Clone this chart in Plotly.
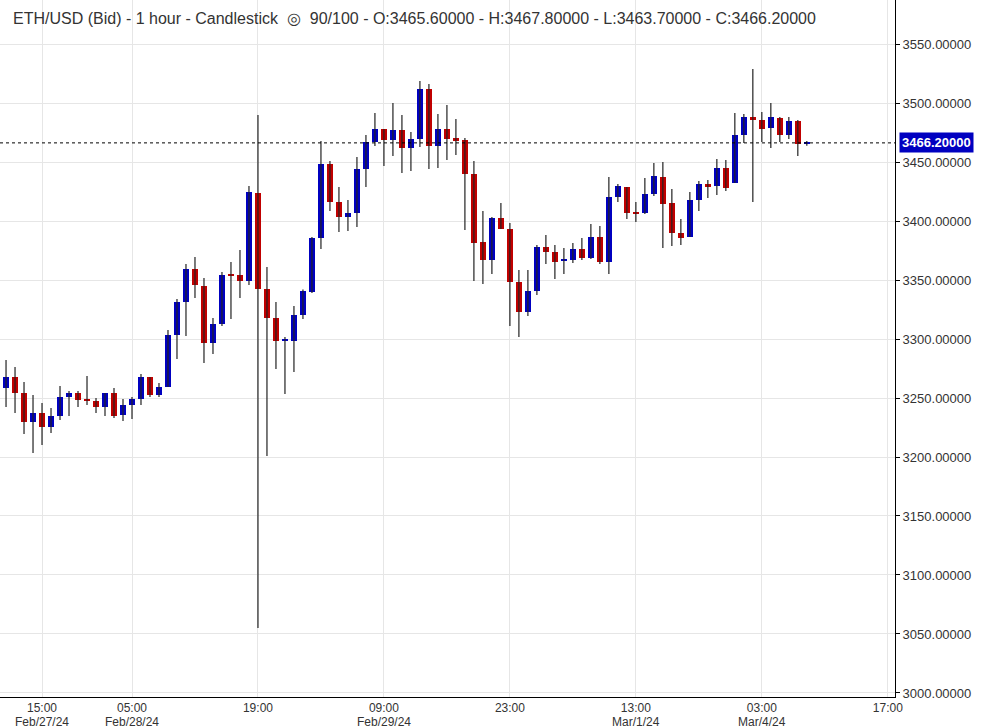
import plotly.graph_objects as go

# hourly ETH/USD candles, index 0 = Feb/27/24 11:00
opens = [3258.5, 3267.8, 3254.2, 3229.7, 3237.3, 3225.4, 3234.7, 3250.8, 3254.2, 3248.5,
         3247.5, 3242.4, 3254.2, 3235.6, 3244.1, 3249.2, 3267.8, 3252.5, 3259.3, 3303.4,
         3331.4, 3359.3, 3344.9, 3296.6, 3312.7, 3354.4, 3354.2, 3349.1, 3423.7, 3342.4,
         3317.8, 3299.0, 3298.3, 3320.3, 3339.8, 3385.6, 3448.3, 3416.1, 3403.4, 3406.8,
         3444.1, 3466.9, 3478.0, 3468.6, 3477.1, 3461.9, 3469.5, 3511.9, 3463.6, 3478.0,
         3470.3, 3468.6, 3439.8, 3382.2, 3367.0, 3402.5, 3393.2, 3348.3, 3322.9, 3340.7,
         3378.0, 3373.7, 3366.8, 3367.0, 3376.3, 3368.7, 3386.4, 3365.3, 3420.3, 3428.8,
         3407.0, 3406.8, 3422.9, 3437.3, 3415.3, 3389.8, 3386.4, 3417.8, 3431.4, 3429.7,
         3444.9, 3432.2, 3472.9, 3488.1, 3485.6, 3478.8, 3487.3, 3472.9, 3484.7, 3465.6]
highs = [3282.2, 3276.3, 3263.6, 3252.5, 3245.8, 3241.5, 3260.2, 3255.9, 3255.9, 3268.6,
         3250.0, 3254.2, 3258.5, 3249.2, 3250.8, 3270.3, 3267.8, 3262.7, 3307.6, 3333.9,
         3363.6, 3369.5, 3351.7, 3317.8, 3356.8, 3365.3, 3375.4, 3429.7, 3489.8, 3361.0,
         3331.4, 3301.7, 3328.0, 3342.0, 3386.4, 3467.8, 3450.9, 3428.8, 3417.8, 3454.2,
         3472.9, 3491.5, 3478.0, 3500.0, 3489.8, 3475.4, 3518.7, 3516.1, 3490.7, 3498.3,
         3486.4, 3470.3, 3450.9, 3408.5, 3403.4, 3415.3, 3398.3, 3358.5, 3358.5, 3379.7,
         3388.1, 3379.7, 3377.1, 3381.4, 3385.6, 3397.5, 3395.8, 3437.3, 3431.4, 3428.8,
         3416.1, 3436.4, 3449.2, 3450.0, 3427.1, 3401.7, 3424.6, 3433.9, 3434.8, 3452.5,
         3451.7, 3491.5, 3490.7, 3528.8, 3492.4, 3500.0, 3488.1, 3488.1, 3485.6, 3467.8]
lows = [3242.4, 3237.3, 3219.5, 3203.4, 3210.2, 3220.3, 3231.4, 3234.7, 3242.4, 3244.1,
        3237.3, 3234.7, 3233.0, 3230.5, 3232.2, 3244.1, 3250.8, 3250.8, 3259.3, 3283.0,
        3302.5, 3334.8, 3279.7, 3287.3, 3311.0, 3317.0, 3334.8, 3345.8, 3055.1, 3200.8,
        3274.6, 3253.4, 3272.0, 3317.0, 3339.0, 3376.3, 3408.5, 3390.7, 3391.5, 3394.9,
        3428.8, 3463.6, 3446.6, 3455.1, 3440.7, 3442.4, 3462.7, 3444.1, 3444.9, 3451.7,
        3455.9, 3392.4, 3349.1, 3346.6, 3355.1, 3393.2, 3311.0, 3301.7, 3319.5, 3337.3,
        3363.6, 3350.8, 3355.1, 3364.4, 3367.0, 3367.8, 3363.6, 3355.1, 3416.1, 3401.7,
        3399.2, 3405.9, 3421.2, 3377.1, 3378.8, 3379.7, 3386.4, 3408.5, 3419.5, 3422.0,
        3425.4, 3432.2, 3466.1, 3416.1, 3466.9, 3461.9, 3466.9, 3469.5, 3455.1, 3463.7]
closes = [3267.8, 3254.2, 3229.7, 3237.3, 3225.4, 3234.7, 3250.8, 3254.2, 3248.3, 3248.0,
          3242.4, 3254.2, 3234.7, 3244.1, 3249.2, 3267.8, 3252.5, 3259.3, 3303.4, 3331.4,
          3359.3, 3345.8, 3296.6, 3312.7, 3354.2, 3354.0, 3349.1, 3424.6, 3342.4, 3317.8,
          3298.3, 3299.5, 3320.3, 3340.7, 3385.6, 3448.3, 3416.1, 3403.4, 3406.8, 3444.1,
          3466.9, 3478.0, 3468.6, 3477.1, 3461.9, 3469.5, 3511.9, 3463.6, 3478.0, 3469.5,
          3467.8, 3439.8, 3381.4, 3367.0, 3402.5, 3393.2, 3348.3, 3322.9, 3340.7, 3378.0,
          3373.7, 3365.3, 3367.2, 3376.3, 3368.7, 3386.4, 3365.3, 3420.3, 3429.7, 3406.8,
          3406.6, 3422.9, 3438.1, 3414.4, 3389.8, 3385.6, 3417.8, 3431.4, 3428.8, 3444.9,
          3428.0, 3472.9, 3488.1, 3485.6, 3478.0, 3488.1, 3472.9, 3484.7, 3465.6, 3466.2]

tick_pos = [4, 14, 28, 42, 56, 70, 84, 98]
tick_time = ["15:00", "05:00", "19:00", "09:00", "23:00", "13:00", "03:00", "17:00"]
tick_date = ["Feb/27/24", "Feb/28/24", "", "Feb/29/24", "", "Mar/1/24", "Mar/4/24", ""]

UP, DOWN = "#0000c0", "#c00000"
idx = list(range(len(closes)))

fig = go.Figure()

# wicks
wx, wy = [], []
for i in idx:
    wx += [i, i, None]
    wy += [lows[i], highs[i], None]
fig.add_trace(go.Scatter(x=wx, y=wy, mode="lines", line=dict(color="#222", width=1.2),
                         hoverinfo="skip", showlegend=False))

# bodies
base = [min(o, c) for o, c in zip(opens, closes)]
size = [max(abs(c - o), 1.0) for o, c in zip(opens, closes)]
cols = [UP if c >= o else DOWN for o, c in zip(opens, closes)]
fig.add_trace(go.Bar(x=idx, y=size, base=base, width=0.66, marker=dict(color=cols, line_width=0),
                     showlegend=False))

last = closes[-1]
fig.add_hline(y=last, line=dict(color="#000", width=1, dash="dot"))

fig.add_annotation(xref="paper", yref="paper", x=0.012, y=0.973, xanchor="left", yanchor="middle",
                   showarrow=False, font=dict(size=16, color="#333"),
                   text="ETH/USD (Bid) - 1 hour - Candlestick  \u25CE  90/100 - O:3465.60000 - "
                        "H:3467.80000 - L:3463.70000 - C:3466.20000")
fig.add_annotation(xref="paper", y=last, x=1.005, xanchor="left", showarrow=False,
                   text=f"<b>{last:.5f}</b>", bgcolor=UP, font=dict(color="white", size=13),
                   borderpad=2)
for p, d in zip(tick_pos, tick_date):
    if d:
        fig.add_annotation(x=p, xref="x", yref="paper", y=-0.036, yanchor="middle",
                           showarrow=False, text=d, font=dict(size=12, color="#333"), borderpad=0)

fig.update_layout(
    width=997, height=728, margin=dict(l=0, r=102, t=0, b=31, autoexpand=False),
    plot_bgcolor="white", paper_bgcolor="white", bargap=0,
    font=dict(family="Arial, Liberation Sans, sans-serif", size=13, color="#333"),
    xaxis=dict(range=[-0.67, 98.8], tickvals=tick_pos, ticktext=tick_time, showgrid=True,
               gridcolor="#e6e6e6", showline=True, linecolor="#000", zeroline=False,
               ticks="", automargin=False, tickfont=dict(size=12)),
    yaxis=dict(side="right", range=[2996.6, 3587.3], dtick=50, tickformat=".5f",
               showgrid=True, gridcolor="#e6e6e6", showline=True, linecolor="#000",
               zeroline=False, ticks="outside", ticklen=4, tickcolor="#000", automargin=False),
)

fig.write_html("out.html", config={"displayModeBar": False},
               post_script="document.body.style.margin='0';")
